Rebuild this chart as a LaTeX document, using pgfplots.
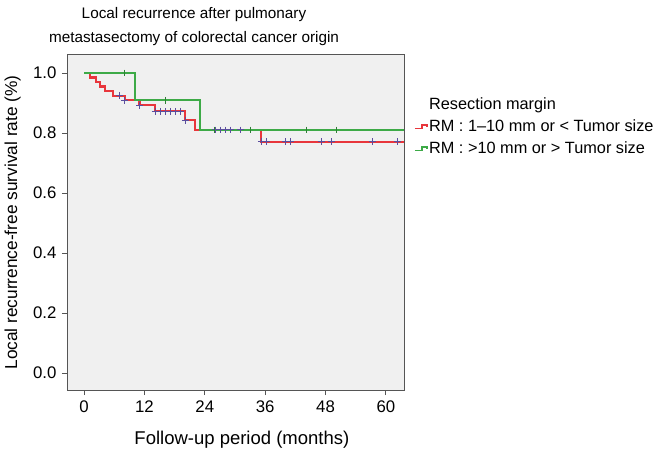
\documentclass[border=0pt]{standalone}
\usepackage{fontspec}
\setmainfont{Liberation Sans}
\usepackage{pgfplots}
\pgfplotsset{compat=1.18}
\definecolor{kmred}{HTML}{E8363C}
\definecolor{kmgreen}{HTML}{3DAA47}
\definecolor{cens}{HTML}{5B4E9E}
\definecolor{bgc}{HTML}{F0F0F0}
\definecolor{axc}{HTML}{555555}
\begin{document}
\fontsize{16bp}{19bp}\selectfont
\begin{tikzpicture}
\useasboundingbox (-67bp,-63bp) rectangle (594bp,390bp);
\begin{axis}[
  at={(0,0)}, anchor=south west, scale only axis,
  width=337bp, height=335bp,
  xmin=-3.4, xmax=63.6, ymin=-0.057, ymax=1.06,
  axis background/.style={fill=bgc},
  axis line style={axc, line width=1pt},
  xtick={0,12,24,36,48,60}, ytick={0,0.2,0.4,0.6,0.8,1.0},
  /pgf/number format/assume math mode=true,
  yticklabel style={/pgf/number format/.cd, fixed, fixed zerofill, precision=1},
  tick align=outside, tick style={axc, line width=0.8pt}, major tick length=5bp,
  xtick pos=bottom, ytick pos=left,
  every tick label/.append style={font=\fontsize{16.8bp}{19bp}\selectfont},
  xlabel={Follow-up period (months)},
  ylabel={Local recurrence-free survival rate (\%)},
  xlabel style={font=\fontsize{18.5bp}{22bp}\selectfont, at={(axis description cs:0.519,-0.164)}, anchor=base},
  ylabel style={font=\fontsize{17.3bp}{20bp}\selectfont, at={(axis description cs:-0.148,0.5)}, anchor=base, rotate=0},
  legend cell align=left,
  legend style={at={(axis description cs:1.03,0.878)}, anchor=north west,
    draw=none, fill=none, inner sep=0pt, row sep=5bp,
    font=\fontsize{16.3bp}{19bp}\selectfont,
    nodes={inner sep=1.5bp}},
]
% red group: RM 1-10 mm or < tumor size
\addplot[kmred, line width=2.2bp, const plot, forget plot] coordinates {
 (0,1) (1.2,0.985) (2.3,0.970) (3.2,0.955) (4.2,0.939) (5.8,0.924)
 (8.1,0.909) (11.0,0.892) (14.1,0.872) (20.1,0.842) (22.0,0.81)
 (35.1,0.771) (63.6,0.771)};
% green group: RM >10 mm or > tumor size
\addplot[kmgreen, line width=2.2bp, const plot, forget plot] coordinates {
 (0,1) (10.1,0.909) (23.0,0.81) (63.6,0.81)};
% censored (red group)
\addplot[only marks, mark=+, mark size=3.4bp, cens, mark options={line width=1bp}, forget plot] coordinates {
 (7.0,0.924) (8.1,0.909) (11.0,0.892)
 (14.1,0.872) (15.1,0.872) (16.1,0.872) (17.1,0.872) (18.1,0.872) (19.1,0.872)
 (20.1,0.842)
 (26.2,0.81) (27.2,0.81) (28.2,0.81) (29.1,0.81) (31.1,0.81)
 (35.2,0.771) (36.2,0.771) (40.1,0.771) (41.1,0.771) (47.2,0.771) (49.2,0.771) (57.3,0.771) (62.3,0.771)};
% censored (green group)
\addplot[only marks, mark=|, mark size=3.4bp, kmgreen!75!black, mark options={line width=0.9bp}, forget plot] coordinates {
 (8.1,1.0) (16.1,0.909) (26.0,0.81) (33.0,0.81) (44.2,0.81) (50.2,0.81)};
\addlegendimage{empty legend}
\addlegendentry{Resection margin}
\addlegendimage{legend image code/.code={\draw[kmred, line width=1.3bp] (0bp,-1.5bp) -- (7bp,-1.5bp) -- (7bp,2bp) -- (12bp,2bp) -- (12bp,0bp);}}
\addlegendentry{RM : 1–10 mm or < Tumor size}
\addlegendimage{legend image code/.code={\draw[kmgreen, line width=1.3bp] (0bp,-1.5bp) -- (7bp,-1.5bp) -- (7bp,2bp) -- (12bp,2bp) -- (12bp,0bp);}}
\addlegendentry{RM : >10 mm or > Tumor size}
\end{axis}
\begin{scope}[font=\fontsize{15.3bp}{18bp}\selectfont]
\node[anchor=base] at (127bp,371.7bp) {Local recurrence after pulmonary};
\node[anchor=base] at (127bp,347.3bp) {metastasectomy of colorectal cancer origin};
\end{scope}
\end{tikzpicture}
\end{document}
